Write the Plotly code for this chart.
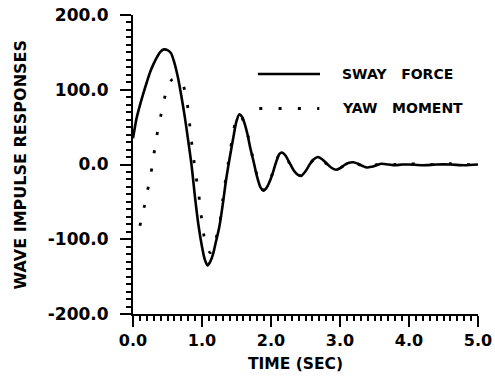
import plotly.graph_objects as go

# Sway force impulse response (time in s, value)
sway_t = [0.00, 0.05, 0.10, 0.15, 0.20, 0.25, 0.30, 0.35, 0.40, 0.45, 0.50, 0.55,
          0.60, 0.65, 0.70, 0.75, 0.80, 0.85, 0.90, 0.95, 1.00, 1.04, 1.08, 1.12,
          1.16, 1.20, 1.25, 1.30, 1.35, 1.40, 1.45, 1.50, 1.54, 1.58, 1.62, 1.66,
          1.70, 1.75, 1.80, 1.85, 1.89, 1.93, 1.97, 2.02, 2.07, 2.12, 2.16, 2.21,
          2.27, 2.33, 2.39, 2.44, 2.50, 2.56, 2.62, 2.68, 2.74, 2.80, 2.87, 2.94,
          3.00, 3.06, 3.12, 3.19, 3.26, 3.33, 3.39, 3.46, 3.53, 3.60, 3.70, 3.80,
          3.90, 4.00, 4.20, 4.40, 4.60, 4.80, 5.00]
sway_v = [35, 61, 79, 95, 110, 124, 135, 144, 151, 154, 153, 149,
          136, 117, 92, 64, 32, -2, -45, -82, -110, -127, -135, -130,
          -120, -104, -84, -54, -20, 8, 34, 58, 67, 64, 54, 40,
          22, 3, -17, -31, -35, -32, -25, -13, 2, 14, 16, 12,
          2, -8, -14, -15, -9, 0, 7, 10, 7, 2, -4, -7,
          -5, -1, 2, 3, 1, -2, -4, -3, -1, 1, 0, -1,
          0, 0, -1, 0, 0, -1, 0]

# Yaw moment impulse response (time in s, value)
yaw_t = [0.10, 0.16, 0.21, 0.26, 0.30, 0.34, 0.39, 0.44, 0.51, 0.57, 0.62, 0.67,
         0.72, 0.78, 0.815, 0.84, 0.875, 0.90, 0.95, 0.97, 1.00, 1.03, 1.08, 1.12,
         1.16, 1.20, 1.26, 1.30, 1.33, 1.38, 1.43, 1.48, 1.53, 1.57, 1.62, 1.67,
         1.72, 1.77, 1.82, 1.87, 1.91, 1.96, 2.01, 2.06, 2.11, 2.15, 2.20, 2.26,
         2.32, 2.38, 2.43, 2.49, 2.55, 2.61, 2.67, 2.73, 2.79, 2.86, 2.93, 3.00,
         3.10, 3.20, 3.30, 3.40, 3.50, 3.60, 3.80, 4.00, 4.20, 4.40, 4.60, 4.80, 5.00]
yaw_v = [-82, -58, -35, -12, 12, 36, 59, 82, 106, 114, 115, 113,
         108, 85, 60, 36, 13, -10, -35, -58, -75, -96, -112, -118,
         -112, -100, -77, -48, -28, 2, 30, 55, 66, 64, 53, 37,
         16, -5, -22, -33, -34, -27, -15, 0, 12, 16, 13, 3,
         -7, -13, -15, -10, -1, 6, 10, 8, 2, -3, -7, -5,
         1, 3, -1, -4, -1, 1, 0, 1, 0, 0, 1, 0, 0]

# Axis ticks and labels
x_ticks = [0, 1, 2, 3, 4, 5]
x_tick_labels = ["0.0", "1.0", "2.0", "3.0", "4.0", "5.0"]
y_ticks = [-200, -100, 0, 100, 200]
y_tick_labels = ["-200.0", "-100.0", "0.0", "100.0", "200.0"]
x_minor_ticks = [i / 10 for i in range(0, 51)]
y_minor_ticks = list(range(-200, 201, 10))

series_names = ["SWAY\u00a0\u00a0\u00a0FORCE", "YAW\u00a0\u00a0\u00a0MOMENT"]

FONT = "DejaVu Sans"
INK = "black"

fig = go.Figure()

fig.add_trace(go.Scatter(
    x=yaw_t, y=yaw_v, mode="lines",
    line=dict(color=INK, width=2.8, dash="3px,15.5px", shape="spline", smoothing=0.8),
    hoverinfo="skip", showlegend=False,
))
fig.add_trace(go.Scatter(
    x=sway_t, y=sway_v, mode="lines",
    line=dict(color=INK, width=2.6, shape="spline", smoothing=0.8),
    hoverinfo="skip", showlegend=False,
))

# Key: sample lines and labels inside the plot area
key_x0, key_x1, key_text_x = 1.81, 2.71, 3.0
key_y = [121, 75]
fig.add_shape(type="line", x0=key_x0, x1=key_x1, y0=key_y[0], y1=key_y[0],
              xref="x", yref="y", line=dict(color=INK, width=2.4))
fig.add_shape(type="line", x0=key_x0 + 0.02, x1=key_x1 - 0.01, y0=key_y[1], y1=key_y[1],
              xref="x", yref="y", line=dict(color=INK, width=3, dash="3px,16.3px"))
for name, yv in zip(series_names, key_y):
    fig.add_annotation(x=key_text_x, y=yv, xref="x", yref="y", text=name,
                       showarrow=False, xanchor="left", yanchor="middle",
                       font=dict(family=FONT, size=14, color=INK, weight="bold"))

# Axis titles
fig.add_annotation(x=-0.325, y=0.5, xref="paper", yref="paper",
                   text="WAVE IMPULSE RESPONSES", textangle=-90, showarrow=False,
                   xanchor="center", yanchor="middle",
                   font=dict(family=FONT, size=16, color=INK, weight="bold"))
fig.add_annotation(x=0.47, y=-0.168, xref="paper", yref="paper",
                   text="TIME (SEC)", showarrow=False,
                   xanchor="center", yanchor="middle",
                   font=dict(family=FONT, size=15.5, color=INK, weight="bold"))

axis_common = dict(
    showgrid=False, zeroline=False, showline=True, linecolor=INK, linewidth=2,
    ticks="outside", tickcolor=INK, tickwidth=2, ticklen=11,
    tickmode="array", fixedrange=True, automargin=False,
)

fig.update_xaxes(
    range=[0, 5], tickvals=x_ticks, ticktext=x_tick_labels,
    tickfont=dict(family=FONT, size=16, color=INK, weight="bold"),
    minor=dict(tickmode="array", tickvals=x_minor_ticks, ticks="outside",
               ticklen=5, tickwidth=1.5, tickcolor=INK),
    **axis_common,
)
fig.update_yaxes(
    range=[-200, 200], tickvals=y_ticks, ticktext=y_tick_labels,
    tickfont=dict(family=FONT, size=17, color=INK, weight="bold"),
    ticklabelstandoff=8,
    minor=dict(tickmode="array", tickvals=y_minor_ticks, ticks="outside",
               ticklen=5, tickwidth=1.5, tickcolor=INK),
    **axis_common,
)

fig.update_layout(
    width=495, height=376,
    margin=dict(l=133, r=17, t=15, b=62),
    paper_bgcolor="white", plot_bgcolor="white",
    showlegend=False,
)

fig.write_html("out.html")
